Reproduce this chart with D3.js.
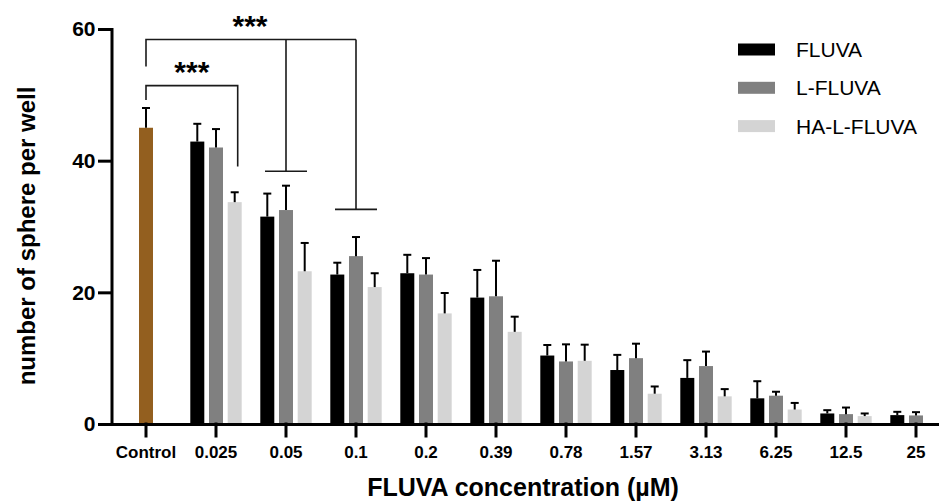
<!DOCTYPE html>
<html>
<head>
<meta charset="utf-8">
<script src="https://cdn.jsdelivr.net/npm/d3@7"></script>
<style>
  body { margin: 0; background: #fff; }
  svg { display: block; font-family: "Liberation Sans", Arial, sans-serif; }
</style>
</head>
<body>
<script>
// data
const categories = ["Control", "0.025", "0.05", "0.1", "0.2", "0.39", "0.78", "1.57", "3.13", "6.25", "12.5", "25"];
const doses = categories.slice(1);
const seriesNames = ["FLUVA", "L-FLUVA", "HA-L-FLUVA"];
const seriesColors = ["#000000", "#808080", "#d4d4d4"];

const controlMean = 45.0;
const controlSD = 3.0;

const fluvaMean = [42.9, 31.5, 22.7, 22.9, 19.2, 10.4, 8.2, 7.0, 3.9, 1.6, 1.35];
const fluvaSD = [2.7, 3.5, 1.8, 2.8, 4.2, 1.6, 2.3, 2.7, 2.6, 0.5, 0.5];
const lfluvaMean = [42.0, 32.5, 25.5, 22.7, 19.4, 9.5, 10.0, 8.8, 4.3, 1.5, 1.3];
const lfluvaSD = [2.8, 3.7, 2.9, 2.5, 5.4, 2.6, 2.2, 2.2, 0.6, 1.0, 0.5];
const halfluvaMean = [33.7, 23.2, 20.8, 16.8, 14.0, 9.6, 4.6, 4.2, 2.2, 1.2, null];
const halfluvaSD = [1.5, 4.3, 2.1, 3.1, 2.3, 2.45, 1.1, 1.1, 1.0, 0.4, null];

const yTicks = [0, 20, 40, 60];

const WIDTH = 939;
const HEIGHT = 501;

const svg = d3.select("body").append("svg")
  .attr("width", WIDTH)
  .attr("height", HEIGHT);

const x = d3.scaleBand().domain(categories).range([111, 951]);
const y = d3.scaleLinear().domain([0, 60]).range([424, 29]);
const cx = c => x(c) + x.bandwidth() / 2;

const barW = 14;
const barStep = 18.7;

// build a flat list of bars
let bars = [{ cat: "Control", v: controlMean, sd: controlSD, off: 0, color: "#935f1f" }];
const means = [fluvaMean, lfluvaMean, halfluvaMean];
const sds = [fluvaSD, lfluvaSD, halfluvaSD];
doses.forEach((d, i) => {
  means.forEach((m, s) => {
    if (m[i] == null) return;
    bars.push({ cat: d, v: m[i], sd: sds[s][i], off: (s - 1) * barStep, color: seriesColors[s] });
  });
});

svg.selectAll("rect.bar")
  .data(bars)
  .enter()
  .append("rect")
  .attr("class", "bar")
  .attr("x", d => cx(d.cat) + d.off - barW / 2)
  .attr("y", d => y(d.v))
  .attr("width", barW)
  .attr("height", d => y(0) - y(d.v))
  .attr("fill", d => d.color);

// error bars (upper only)
const err = svg.append("g").attr("stroke", "#000").attr("stroke-width", 2);
bars.forEach(d => {
  const bx = cx(d.cat) + d.off;
  err.append("line")
    .attr("x1", bx).attr("x2", bx)
    .attr("y1", y(d.v)).attr("y2", y(d.v + d.sd));
  err.append("line")
    .attr("x1", bx - 4).attr("x2", bx + 4)
    .attr("y1", y(d.v + d.sd)).attr("y2", y(d.v + d.sd));
});

// axes
const xAxis = svg.append("g")
  .attr("transform", "translate(0," + y(0) + ")")
  .call(d3.axisBottom(x).tickSize(12).tickSizeOuter(0).tickPadding(10));
xAxis.selectAll("text")
  .attr("font-size", 17).attr("font-weight", "bold").attr("fill", "#000")
  .attr("font-family", "'Liberation Sans', Arial, sans-serif");

const yAxis = svg.append("g")
  .attr("transform", "translate(111.5,0)")
  .call(d3.axisLeft(y).tickValues(yTicks).tickSize(12).tickSizeOuter(0).tickPadding(4));
yAxis.selectAll("text")
  .attr("font-size", 21).attr("font-weight", "bold").attr("fill", "#000")
  .attr("font-family", "'Liberation Sans', Arial, sans-serif");

[xAxis, yAxis].forEach(ax => {
  ax.selectAll("path, line")
    .style("stroke", "#000")
    .style("stroke-width", "3px")
    .style("stroke-linecap", "square");
});

// axis titles
svg.append("text")
  .attr("x", 523)
  .attr("y", 496)
  .attr("text-anchor", "middle")
  .attr("font-size", 25)
  .attr("font-weight", "bold")
  .text("FLUVA concentration (µM)");

svg.append("text")
  .attr("transform", "translate(35,236) rotate(-90)")
  .attr("text-anchor", "middle")
  .attr("font-size", 24)
  .attr("font-weight", "bold")
  .text("number of sphere per well");

// legend
const legend = svg.append("g");
seriesNames.forEach((name, i) => {
  const ly = 49.5 + i * 38.3;
  legend.append("rect")
    .attr("x", 738).attr("y", ly - 6)
    .attr("width", 37).attr("height", 12)
    .attr("fill", seriesColors[i]);
  legend.append("text")
    .attr("x", 796).attr("y", ly)
    .attr("dy", "0.36em")
    .attr("font-size", 21)
    .text(name);
});

// significance brackets
const br = svg.append("g")
  .attr("fill", "none")
  .attr("stroke", "#1a1a1a")
  .attr("stroke-width", 1.6);

const haX = cx("0.025") + barStep + 3;
br.append("path")
  .attr("d", "M" + cx("Control") + "," + y(49.2) + "V" + y(51.4) + "H" + haX + "V" + y(39.1));

br.append("path")
  .attr("d", "M" + cx("Control") + "," + y(54.3) + "V" + y(58.4) + "H" + cx("0.1"));
br.append("path")
  .attr("d", "M" + cx("0.05") + "," + y(58.4) + "V" + y(38.4) +
    "M" + (cx("0.05") - 21) + "," + y(38.4) + "H" + (cx("0.05") + 21));
br.append("path")
  .attr("d", "M" + cx("0.1") + "," + y(58.4) + "V" + y(32.6) +
    "M" + (cx("0.1") - 21) + "," + y(32.6) + "H" + (cx("0.1") + 21));

svg.append("text")
  .attr("x", (cx("Control") + haX) / 2)
  .attr("y", 82)
  .attr("text-anchor", "middle")
  .attr("font-size", 30)
  .attr("font-weight", "bold")
  .text("***");

svg.append("text")
  .attr("x", 250)
  .attr("y", 36)
  .attr("text-anchor", "middle")
  .attr("font-size", 30)
  .attr("font-weight", "bold")
  .text("***");
</script>
</body>
</html>
